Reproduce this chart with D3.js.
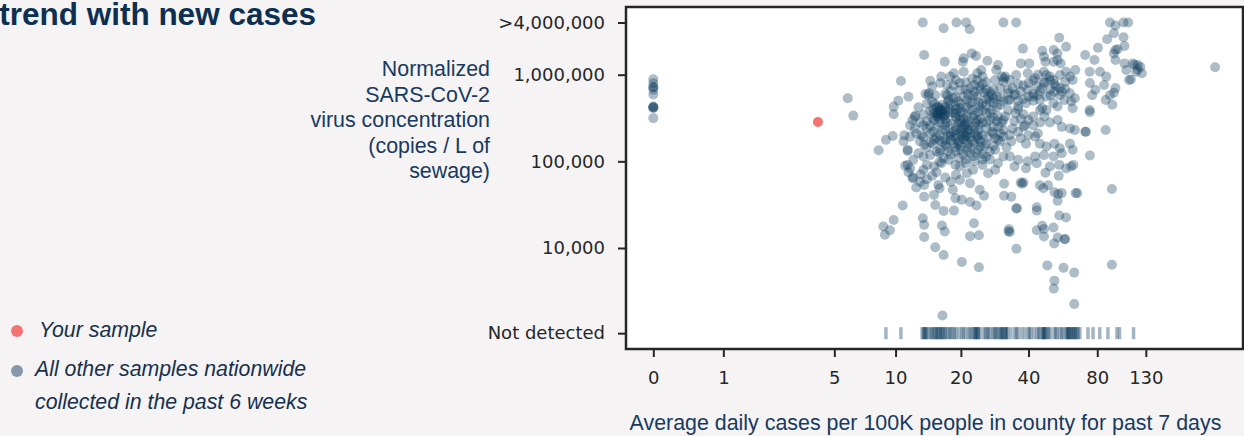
<!DOCTYPE html>
<meta charset="utf-8">
<style>
 body { margin: 0; background: #f5f3f4; }
 svg { display: block; }
 .axis path { display: none; }
 .axis line { stroke: #262626; stroke-width: 2; }
 .axis text { font: 18px "DejaVu Sans", sans-serif; fill: #262626; }
 .label { font: 21.4px "Liberation Sans", Arial, sans-serif; fill: #173a5e; }
 .legend { font: italic 21.3px "Liberation Sans", Arial, sans-serif; fill: #17304d; }
 .title { font: bold 31.5px "Liberation Sans", Arial, sans-serif; fill: #0d3052; }
</style>
<body>
<svg width="1244" height="436"></svg>
<script src="https://d3js.org/d3.v7.min.js"></script>
<script>

 // cases per 100K (7 day avg), concentration copies/L
 var yourSample = [4.1, 2.85e5];

 var samples = [
   [0,8.85e5],[0,7.95e5],[0,7.2e5],[0,7.15e5],[0,6.7e5],[0,5.9e5],[0,4.3e5],[0,4.2e5],[0,4.1e5],[0,4.2e5],[0,3.15e5],
   [5.85,5.35e5],[6.24,3.37e5],
   [10.6,8.45e5],[13.4,4e6],[13.6,1.69e6],[11.5,5.57e5],[10.3,5.0e5],[9.8,4.28e5],[9.8,3.5e5],[9.7,1.96e5],[9.0,1.77e5],[8.3,1.34e5],[12.4,3.37e5],[11.4,1.32e5],[11.1,8.9e4],[12.1,6.4e4],[12.5,5.0e4],[13.6,3.9e4],[10.8,3.1e4],[9.8,2.1e4],[8.75,1.77e4],[9.4,1.6e4],[8.9,1.42e4],[13.4,2.2e4],[13.6,1.85e4],[13.6,1.34e4],[15.3,1.02e4],[16.5,1660],
   [16.7,8.3e3],[16.4,1.82e4],[16.9,1.55e4],[20.2,6.9e3],[24.1,6.0e3],[22.9,1.93e4],[22,1.37e4],[24.1,1.4e4],[16.7,2.68e4],[18.6,2.7e4],[15.3,3.14e4],[13.6,5.35e4],[13.1,7.1e4],[14.8,6.8e4],[15.8,5.35e4],[15.1,4.1e4],[16,4.9e4],[18.9,3.75e4],[20.2,3.6e4],[22,3.4e4],[23.5,3.1e4],[25.4,4.0e4],[24.3,4.7e4],[22,5.6e4],[19.8,6.1e4],[21.3,7.3e4],[26.5,7.3e4],[31.2,5.5e4],[31.2,4.0e4],[32.6,1.55e4],[18.4,4.7e4],
   [33.6,3.9e4],[35.6,2.88e4],[37,5.7e4],[38,5.7e4],[37.5,5.5e4],[47.5,7.4e4],[54.3,6.8e4],[44.9,5.3e4],[46.5,4.9e4],[48.8,5.3e4],[52,4.4e4],[54,4.2e4],[56,4.3e4],[53.7,3.5e4],[64.4,4.3e4],[92.6,4.8e4],[43.5,2.95e4],[43.5,2.7e4],[54.6,2.37e4],[58.5,2.25e4],[32.8,1.65e4],[33.1,1.53e4],[43.5,1.6e4],[46,1.8e4],[46.8,1.66e4],[51.5,1.72e4],[46.8,1.36e4],[51.9,1.13e4],[53.7,1.32e4],[57.5,1.26e4],[58,1.27e4],[35.4,9.8e3],[48.4,6.3e3],[57,5.9e3],[63.5,5.2e3],[52,4.2e3],[51.7,3.4e3],[63.5,2.26e3],[92.6,6.4e3],
   [16.7,3.43e6],[19.1,4e6],[21.1,4e6],[21.9,3.35e6],[31,4e6],[16.9,1.41e6],[20.6,1.55e6],[20.4,1.41e6],[22.4,1.76e6],[23.4,1.64e6],[26.3,1.45e6],[29.3,1.29e6],[12.8,4.2e5],[12.3,3.28e5],[14.5,8.5e5],[16.3,9.5e5],[17.9,9.5e5],[18.6,1.04e6],[20.6,1.08e6],[14.3,6.1e5],[13.8,6.0e5],[15.3,5.8e5],[14.8,7.3e5],[16.1,3.9e5],[15.8,3.3e5],[16.7,3.3e5],[15.8,4.3e5],[17,3.9e5],[17.3,5.8e5],[17.6,5.1e5],[19.4,4.9e5],[19.8,4.1e5],[21,6.7e5],[22,7.0e5],[19.8,6.7e5],[23.7,8.7e5],[24.2,7.3e5],[22.7,5.8e5],[26,6.7e5],[26.5,5.6e5],[28,4.7e5],[27.5,3.9e5],[29.3,3.3e5],[30.5,2.8e5],[20.6,3.6e5],[21.3,3.3e5],[19.8,3.0e5],[22.7,3.9e5],[23.7,3.0e5],[26,3.6e5],[25,2.8e5],[20.6,2.4e5],[22,2.1e5],[21,1.93e5],[23.7,1.93e5],[19,2.3e5],[17.9,1.93e5],[17,1.77e5],[15.1,3.0e5],[14.5,2.6e5],[13.5,2.6e5],[13.2,2.0e5],[12.3,2.4e5],[11.7,2.6e5],[11.0,2.0e5],[11.7,1.93e5],[11.4,1.36e5],[12.1,1.04e5],[12.8,1.24e5],[13.5,1.14e5],[14.5,1.18e5],[11.4,9.1e4],[11.7,8.3e4],[14,9.1e4],[15.1,8.7e4],[13.5,8.0e4],[16.3,9.5e4],[17.6,1.04e5],[18.9,9.1e4],[19.8,8.7e4],[16.1,1.36e5],[17.3,1.48e5],[18.9,1.3e5],[21.3,1.36e5],[22.7,1.14e5],[24.4,1.48e5],[26,1.14e5],[28.5,1.36e5],[29.3,9.5e4],[31,1.14e5],[25,9.1e4],[28.5,8.0e4],[22.7,8.0e4],[28,2.1e5],[29.3,1.77e5],[31,2.3e5],[31,3.0e5],[32.5,3.9e5],[32.5,5.1e5],[32.5,6.1e5],[31,8.3e5],[31.6,9.5e5],[28.5,8.7e5],[30.5,9.5e5],[28.8,1.13e6],[25,9.5e5],[24.7,1.13e6],[23.7,1.04e6],[19,8.7e5],[19.8,8.0e5],[16.1,8.0e5],[17.3,7.6e5],[14.2,5.8e5],[14.8,4.9e5],[16,3.7e5],[16.3,3.5e5],[15.5,3.6e5],[20.6,5.6e5],[21.3,5.1e5],[22,4.7e5],[23.7,5.6e5],[24.2,4.3e5],[20.1,2.8e5],[21.7,2.6e5],[23.4,2.8e5],[18.9,3.3e5],[18.9,4.3e5],[17.3,2.8e5],[15.1,1.77e5],[13.6,1.55e5],[16.7,1.09e5],[10.9,1.7e5],
   [35.3,4e6],[90.8,4e6],[96,3.7e6],[109,4e6],[104,4e6],[54.6,2.67e6],[58.5,2.1e6],[37.8,2.0e6],[46,1.89e6],[51.6,1.93e6],[53.6,1.76e6],[46.8,1.61e6],[47.5,1.41e6],[51.6,1.41e6],[53.7,1.48e6],[55.4,1.35e6],[40.3,1.35e6],[37,1.35e6],[70.9,1.69e6],[80.6,2.05e6],[88.3,2.56e6],[94.5,3.0e6],[104,2.7e6],[98,1.97e6],[105,2.14e6],[94.5,1.76e6],[96,1.93e6],[77.8,1.48e6],[74.1,1.08e6],[82.2,1.08e6],[87.5,9.5e5],[64.2,1.13e6],[58.5,1.08e6],[96,1.48e6],[105,1.35e6],[107,1.13e6],[114,1.35e6],[120,1.29e6],[123,1.23e6],[118,1.08e6],[125,1.04e6],[112,8.8e5],[110,8.7e5],[116,1.3e6],[120,1.15e6],[259,1.22e6],[74.3,8.0e5],[78.5,6.7e5],[76,5.8e5],[85.7,7.6e5],[90.8,5.8e5],[94.5,6.2e5],[96,7.0e5],[87,5.1e5],[93,4.5e5],[74.1,3.9e5],[87,2.3e5],[71.4,2.2e5],[74.3,1.17e5],[74.3,3.7e5],[62.9,9.1e4],[58.5,8.3e4],[65.5,4.3e4],[35.3,2.85e4],
   [31.2,9.1e5],[33.1,8.7e5],[35.3,9.9e5],[39.7,1.04e6],[42.8,9.1e5],[46.8,1.08e6],[49.7,9.5e5],[51.6,8.7e5],[55,9.9e5],[58,8.3e5],[60.8,9.5e5],[62.5,8.7e5],
   [32.5,6.7e5],[34.7,5.8e5],[37,6.4e5],[39.7,6.7e5],[43.5,7.3e5],[46.8,8.0e5],[49.7,8.7e5],[53,7.3e5],[56,6.4e5],[60.8,6.1e5],[63.9,5.35e5],
   [31,4.9e5],[33.1,5.1e5],[36,4.3e5],[39,4.7e5],[41.9,5.6e5],[44.9,5.1e5],[46,4.1e5],[48,3.9e5],[51.5,4.7e5],[53.7,4.3e5],[57.5,5.1e5],[61.5,4.9e5],[62.5,4.1e5],
   [31.6,3.3e5],[34.7,2.9e5],[37,3.1e5],[38.6,2.6e5],[41.9,3.3e5],[44.9,3.9e5],[47,3.3e5],[49.7,2.8e5],[53.7,3.0e5],[56,2.5e5],[60.8,2.4e5],[63.9,2.3e5],[70.9,2.2e5],
   [31,1.93e5],[33.6,1.7e5],[37,1.85e5],[39,1.6e5],[42.8,1.93e5],[44.9,1.6e5],[48,1.48e5],[52,1.6e5],[54.9,1.42e5],[60.8,1.6e5],[62.5,1.36e5],[56,1.24e5],[51.6,1.14e5],[46.8,1.18e5],[42.8,1.14e5],[39.7,1.0e5],[36,1.04e5],[33.1,1.14e5],
   [34.7,8.7e4],[39,8.3e4],[43.5,9.5e4],[49.7,8.7e4],[54.6,9.1e4],[61.5,8.7e4],
   [15,4.0e5],[16,3.6e5],[15.5,3.3e5],[16.5,4.5e5],[17,3.0e5],[14.5,3.8e5],[15.8,3.5e5],[16.2,3.9e5],[14,4.6e5],[17.5,3.7e5],
   [19,2.0e5],[20,2.2e5],[21,2.0e5],[20.5,1.8e5],[19.5,1.7e5],[22,2.3e5],[20.8,2.6e5],[21.5,1.6e5],[19,2.5e5],[20,1.5e5],
   [24,2.6e5],[26,2.4e5],[23,3.4e5],[25,3.9e5],[27,3.0e5],[28,2.5e5],[24,4.8e5],[26,5.2e5],[22,4.0e5],[23,6.3e5],
   [18,6.5e5],[17,6.0e5],[19,5.5e5],[18.5,7.5e5],[21,8.2e5],[22.5,9.0e5],[25,7.8e5],[27,6.3e5],[29,5.6e5],[30,4.5e5],
   [14,1.45e5],[15,1.6e5],[16,1.25e5],[17,1.55e5],[18,1.2e5],[19,1.45e5],[13,1.7e5],[12.5,2.1e5],[13.5,3.5e5],[12,3.0e5],
   [15,2.2e5],[16,2.0e5],[17,2.3e5],[18,2.1e5],[14,2.4e5],[18,2.7e5],[19,3.2e5],[17,2.6e5],[16,2.8e5],[20,3.7e5],
   [23,1.0e5],[25,1.2e5],[27,1.05e5],[24,1.35e5],[26,1.6e5],[28,1.5e5],[30,1.7e5],[32,1.45e5],[33,2.0e5],[34,2.4e5],
   [35,3.6e5],[36,4.0e5],[38,3.5e5],[40,3.0e5],[42,2.6e5],[44,2.1e5],[36,2.2e5],[38,2.5e5],[40,2.0e5],[45,2.8e5],
   [35,6.0e5],[38,7.5e5],[40,8.0e5],[42,6.0e5],[45,6.5e5],[48,5.6e5],[50,6.8e5],[52,7.8e5],[55,5.8e5],[47,8.2e5],
   [12,6.5e4],[13,5.8e4],[11.5,7.5e4],[14,6.2e4],[15.5,7.5e4],[17,6.5e4],[18,5.8e4],[19,7.0e4],[16,9.8e4],[21,9.5e4],
   [15.5,4.2e5],[16.5,3.8e5],[15,3.6e5],[16,4.1e5],[17,4.2e5],[14.8,3.2e5],[16.8,3.4e5],[15.2,4.6e5],[16,3.1e5],[17.8,4.0e5],
   [18.5,3.6e5],[19.5,2.8e5],[20.5,3.1e5],[21.5,2.9e5],[22.5,3.2e5],[19,1.85e5],[20,1.95e5],[20.5,2.1e5],[21,1.75e5],[19.5,1.6e5],
   [20,2.4e5],[18.5,2.2e5],[21.5,2.3e5],[22,1.9e5],[23,2.1e5],[24,2.3e5],[25,2.0e5],[24.5,1.7e5],[23,1.6e5],[22,1.45e5],
   [26,4.4e5],[27,4.9e5],[28,5.3e5],[29,4.2e5],[30,5.5e5],[27.5,5.9e5],[25.5,6.2e5],[24.5,6.8e5],[23,7.6e5],[21.5,6.0e5],
   [18,4.6e5],[19,4.0e5],[17.5,4.9e5],[18.5,5.4e5],[20,4.6e5],[21,4.2e5],[22.5,4.9e5],[25,4.6e5],[24,3.7e5],[27,3.6e5],
   [14,2.9e5],[13,2.8e5],[14.5,2.1e5],[15.5,2.5e5],[16.5,2.3e5],[15.5,1.9e5],[16.5,1.65e5],[17.5,2.0e5],[18.5,1.6e5],[13.5,1.9e5],
   [42,5.0e5],[44,5.8e5],[46,7.0e5],[50,5.8e5],[52,6.3e5],[55,7.0e5],[58,6.8e5],[40,5.6e5],[38,5.2e5],[36,5.0e5],
   [34,7.0e5],[36,7.8e5],[42,8.6e5],[48,9.9e5],[44,1.0e6],[30,7.0e5],[28,6.8e5],[26,8.2e5],
   [24,1.8e5],[25.5,1.5e5],[26.5,1.9e5],[27.5,2.2e5],[28.5,1.85e5],[29.5,2.5e5],[30,2.1e5],[27,1.3e5],[25,1.05e5],[23.5,1.25e5],
   [22,1.25e5],[20.5,1.2e5],[21,1.05e5],[19.5,1.1e5],[26,2.8e5],[28,3.2e5],[29,2.9e5],[24.5,3.1e5],[23,2.5e5],[21,2.7e5],
   [17.5,1.3e5],[15.5,1.3e5],[14.5,1.65e5],[18,1.75e5],[16,1.75e5],[20,1.35e5],[22.5,1.7e5],[24,2.0e5],[19,3.6e5],[17,3.4e5]
 ];

 // samples where virus was not detected (cases only)
 var notDetected = [9, 10.6, 13.3, 13.5, 13.6, 13.8, 13.8, 14, 14.3, 14.6, 14.8, 15, 15.2, 15.5, 15.5, 15.7, 15.9, 16.2, 16.2,
   16.4, 16.6, 16.9, 17, 17.4, 17.7, 18, 18.3, 18.7, 19, 19.6, 20.2, 20.5, 21, 21.6, 22, 22.4, 22.8, 23.2, 23.2, 23.4, 23.6,
   23.9, 24, 24.4, 25.3, 25.8, 26.2, 26.6, 27, 27.8, 28.2, 28.6, 29, 29.4, 30, 30.3, 30.6, 30.6, 31.2, 31.5, 31.8, 32, 32.4,
   33.5, 34.8, 35.4, 36, 37.3, 38.5, 39.8, 40.4, 41, 42.3, 43.6, 44.3, 45, 46, 46.4, 46.8, 46.8, 47.2, 47.6, 48.5, 49, 50,
   51.8, 52.7, 53.5, 55, 56, 57, 58.5, 59, 59.5, 60, 60, 61, 61.5, 62, 63, 63, 64, 64.5, 65.2, 66, 67.2,
   72.9, 76.7, 82, 89, 97.4, 100, 115];

 var xTicks = [0, 1, 5, 10, 20, 40, 80, 130];
 var yTicks = [1040, 1e4, 1e5, 1e6, 4e6];
 var yTickLabels = ["Not detected", "10,000", "100,000", "1,000,000", ">4,000,000"];
 var yTitle = ["Normalized", "SARS-CoV-2", "virus concentration", "(copies / L of", "sewage)"];
 var NOT_DETECTED = 1040;

 var svg = d3.select("svg");
 var plotL = 626, plotR = 1243, plotT = 7, plotB = 349;

 // x is plotted on log(cases + 1)
 var x = d3.scaleLog().domain([0.763, 342.8]).range([plotL, plotR]);
 var y = d3.scaleLog().domain([683, 6.04e6]).range([plotB, plotT]);
 var dark = "rgb(14,61,94)";

 svg.append("rect")
    .attr("x", plotL).attr("y", plotT)
    .attr("width", plotR - plotL).attr("height", plotB - plotT)
    .attr("fill", "#fff");

 svg.append("g")
    .selectAll("circle")
    .data(samples)
    .enter().append("circle")
    .attr("cx", d => x(d[0] + 1))
    .attr("cy", d => y(d[1]))
    .attr("r", 5)
    .attr("fill", dark)
    .attr("fill-opacity", 0.34);

 svg.append("g")
    .selectAll("rect")
    .data(notDetected)
    .enter().append("rect")
    .attr("x", d => x(d + 1) - 1.75)
    .attr("y", y(NOT_DETECTED) - 6)
    .attr("width", 3.5)
    .attr("height", 12)
    .attr("fill", dark)
    .attr("fill-opacity", 0.38);

 svg.append("circle")
    .attr("cx", x(yourSample[0] + 1))
    .attr("cy", y(yourSample[1]))
    .attr("r", 5)
    .attr("fill", "#f47272");

 svg.append("g")
    .attr("class", "axis")
    .attr("transform", "translate(" + plotL + ",0)")
    .call(d3.axisLeft(y).tickValues(yTicks)
          .tickFormat((d, i) => yTickLabels[i])
          .tickSize(8).tickPadding(13));

 svg.append("g")
    .attr("class", "axis")
    .attr("transform", "translate(0," + plotB + ")")
    .call(d3.axisBottom(x).tickValues(xTicks.map(d => d + 1))
          .tickFormat(d => Math.round(d - 1))
          .tickSize(8).tickPadding(14));

 svg.append("rect")
    .attr("x", plotL).attr("y", plotT)
    .attr("width", plotR - plotL).attr("height", plotB - plotT)
    .attr("fill", "none")
    .attr("stroke", "#262626")
    .attr("stroke-width", 2.5);

 svg.append("g")
    .selectAll("text")
    .data(yTitle)
    .enter().append("text")
    .attr("class", "label")
    .attr("x", 490)
    .attr("y", (d, i) => 76 + i * 25.6)
    .attr("text-anchor", "end")
    .text(d => d);

 svg.append("text")
    .attr("class", "label")
    .attr("x", 925.5)
    .attr("y", 430)
    .attr("text-anchor", "middle")
    .text("Average daily cases per 100K people in county for past 7 days");

 svg.append("text")
    .attr("class", "title")
    .attr("x", 316)
    .attr("y", 25)
    .attr("text-anchor", "end")
    .text("trend with new cases");

 // legend
 svg.append("circle").attr("cx", 17).attr("cy", 331).attr("r", 6).attr("fill", "#f47272");
 svg.append("text").attr("class", "legend").attr("x", 39).attr("y", 337).text("Your sample");
 svg.append("circle").attr("cx", 17).attr("cy", 371).attr("r", 6).attr("fill", "#8598aa");
 svg.append("text").attr("class", "legend").attr("x", 35).attr("y", 376).text("All other samples nationwide");
 svg.append("text").attr("class", "legend").attr("x", 35).attr("y", 409).text("collected in the past 6 weeks");

</script>
</body>
